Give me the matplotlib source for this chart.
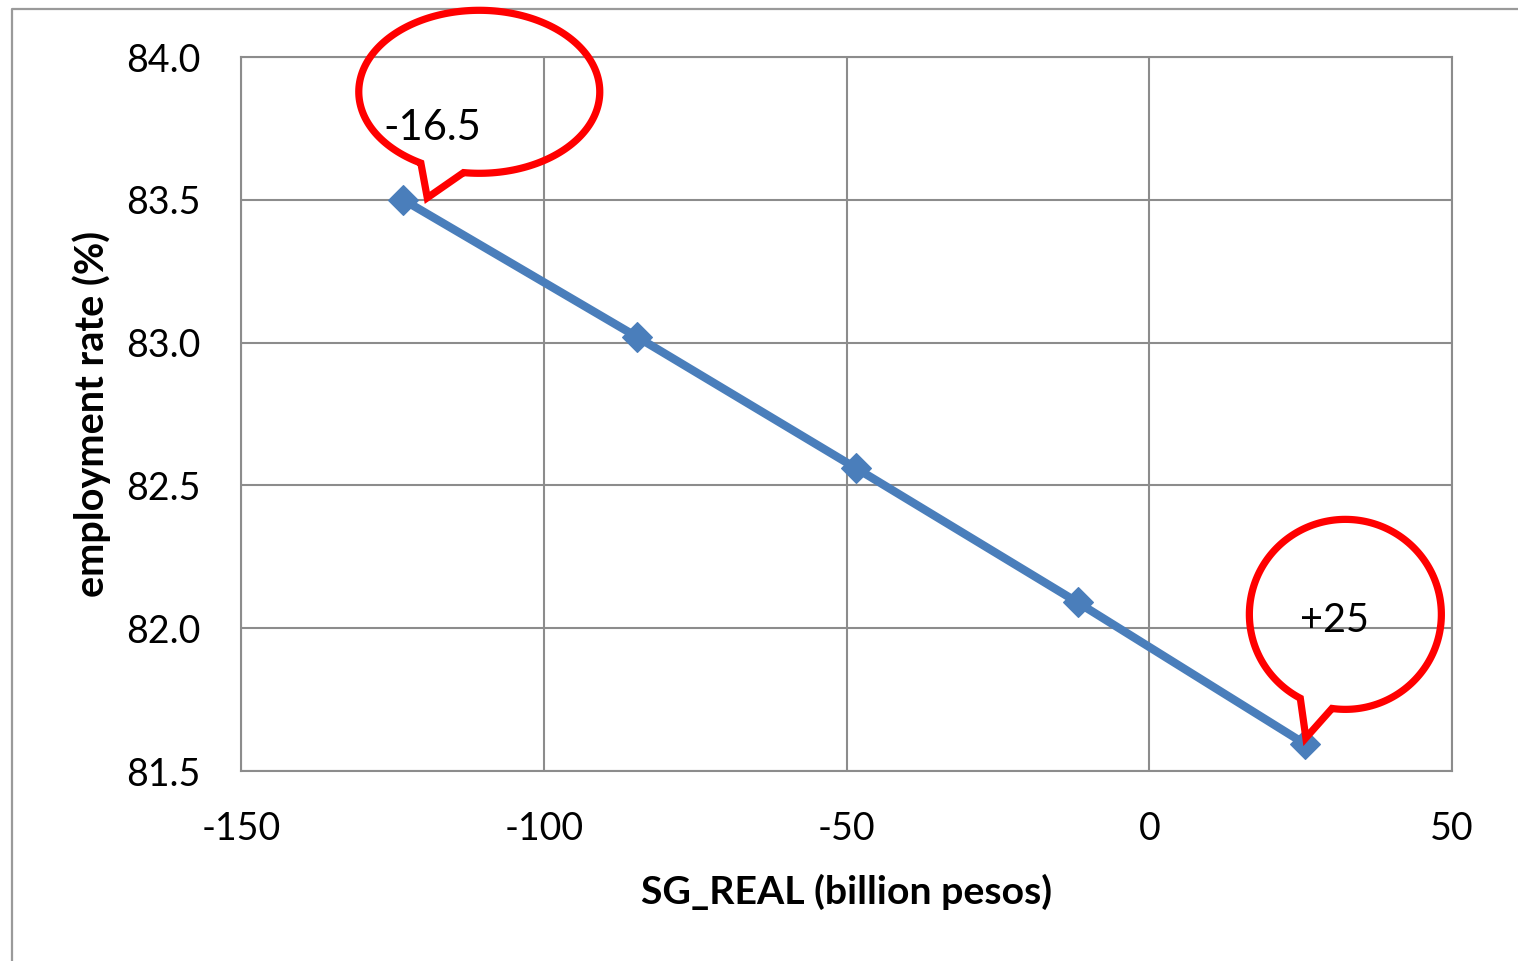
import numpy as np
import matplotlib
matplotlib.use("Agg")
import matplotlib.pyplot as plt
from matplotlib.path import Path
from matplotlib.patches import PathPatch
from matplotlib.lines import Line2D
from matplotlib.transforms import Affine2D

plt.rcParams['font.family'] = ['Lato', 'DejaVu Sans']

# Data
sg_real = [-123.2, -84.6, -48.4, -11.8, 25.7]
employment = [83.50, 83.02, 82.56, 82.09, 81.595]
x_ticks = [-150, -100, -50, 0, 50]
y_ticks = [81.5, 82.0, 82.5, 83.0, 83.5, 84.0]
callout_labels = ["-16.5", "+25"]
callout_points = [0, 4]

W, H, DPI = 1518, 961, 100
fig = plt.figure(figsize=(W / DPI, H / DPI), dpi=DPI)
ax = fig.add_axes([241 / W, 1 - 771 / H, (1452 - 241) / W, (771 - 57) / H])

grid_c = "#8c8c8c"
ax.plot(sg_real, employment, color="#4a7ebb", lw=6.0, marker="D",
        ms=15, mfc="#4a7ebb", mec="#4a7ebb", mew=0.8, zorder=3,
        solid_capstyle="butt")

ax.set_xlim(-150, 50)
ax.set_ylim(81.5, 84.0)
ax.set_xticks(x_ticks)
ax.set_yticks(y_ticks)
ax.set_xticklabels([f"{v:d}" for v in x_ticks])
ax.set_yticklabels([f"{v:.1f}" for v in y_ticks])
ax.tick_params(length=0, labelsize=27, colors="black", pad=29)
ax.grid(True, color=grid_c, lw=1.5)
ax.set_axisbelow(True)
for s in ax.spines.values():
    s.set_color(grid_c)
    s.set_linewidth(1.5)

ax.set_xlabel("SG_REAL (billion pesos)", fontsize=28.3, fontweight="bold", labelpad=19)
ax.set_ylabel("employment rate (%)", fontsize=28.5, fontweight="bold", labelpad=11)

# Outer chart-area frame
fig.add_artist(Line2D([12 / W, 12 / W, 1.0], [0.0, 1 - 9 / H, 1 - 9 / H],
                      transform=fig.transFigure, color="#9a9a9a", lw=1.6))

fig.canvas.draw()


def bubble_path(a, b, t1, t2, tip, n=200):
    """Ellipse (semi-axes a, b) with a tail between angles t1..t2 to tip."""
    ts = np.linspace(np.deg2rad(t2), np.deg2rad(t1) + 2 * np.pi, n)
    pts = [(a * np.cos(t), b * np.sin(t)) for t in ts]
    pts.append(tip)
    pts.append(pts[0])
    codes = [Path.MOVETO] + [Path.LINETO] * (len(pts) - 2) + [Path.CLOSEPOLY]
    return Path(pts, codes)


# Callout geometry in pixels relative to the marked point (y up)
bubbles = [
    dict(center=(76, 108), a=120.5, b=81.5, t1=-119, t2=-97.5,
         tip=(-52, -106), text_off=(29, 72), fs=30),
    dict(center=(40.5, 129.5), a=96, b=95, t1=-118, t2=-98,
         tip=(-39.5, -123.5), text_off=(30, 123), fs=28.5),
]

for idx, lab, spec in zip(callout_points, callout_labels, bubbles):
    px, py = ax.transData.transform((sg_real[idx], employment[idx]))
    cx, cy = px + spec["center"][0], py + spec["center"][1]
    path = bubble_path(spec["a"], spec["b"], spec["t1"], spec["t2"], spec["tip"])
    patch = PathPatch(path, facecolor="none", edgecolor="#ff0000", lw=5.2,
                      transform=Affine2D().translate(cx, cy), zorder=5,
                      joinstyle="miter")
    patch.set_clip_on(False)
    fig.add_artist(patch)
    tx, ty = px + spec["text_off"][0], py + spec["text_off"][1]
    fig.text(tx / W, ty / H, lab, fontsize=spec["fs"], ha="center", va="center",
             color="black", zorder=6)

fig.savefig("out.png", dpi=DPI)
